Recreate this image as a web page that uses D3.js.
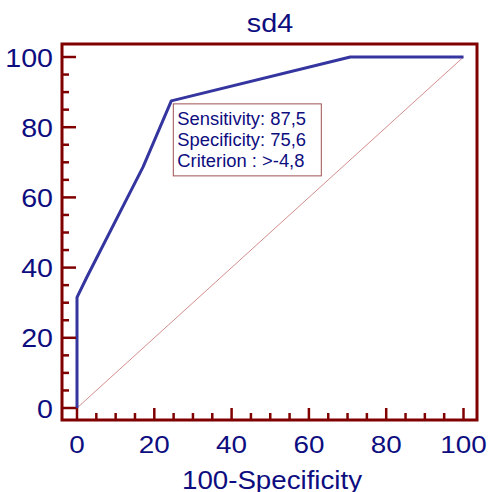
<!DOCTYPE html>
<html><head><meta charset="utf-8">
<script src="https://cdn.jsdelivr.net/npm/d3@7"></script>
<style>body{margin:0;background:#fff}svg{display:block}</style>
</head><body>
<script>
const fpr = [0, 0, 2.6, 17.1, 24.4, 70.7, 100];
const tpr = [0, 31.5, 37.4, 68.7, 87.5, 100, 100];
const majorTicks = [0, 20, 40, 60, 80, 100];
const title = "sd4";
const xTitle = "100-Specificity";
const annot = ["Sensitivity: 87,5", "Specificity: 75,6", "Criterion : >-4,8"];
const annotPoint = [24.4, 87.5];

const W = 490, H = 492;
const svg = d3.select("body").append("svg").attr("width", W).attr("height", H);
const x = d3.scaleLinear().domain([0, 100]).range([77, 463.5]);
const y = d3.scaleLinear().domain([0, 100]).range([408, 57]);
const frame = {l: 62, r: 477, t: 44, b: 420};
const red = "#800000", navy = "#0d0d80", font = "Liberation Sans, Arial, sans-serif";

function txt(px, py, s, size, sx, anchor) {
  return svg.append("text").attr("transform", `translate(${px},${py}) scale(${sx},1)`)
    .attr("text-anchor", anchor).attr("font-family", font).attr("font-size", size)
    .attr("fill", navy).text(s);
}

// diagonal
svg.append("line").attr("x1", x(0)).attr("y1", y(0)).attr("x2", x(100)).attr("y2", y(100))
  .attr("stroke", "#c87070").attr("stroke-width", 0.8);

// ROC line
const line = d3.line().x((d, i) => x(fpr[i])).y((d, i) => y(tpr[i]));
svg.append("path").datum(fpr).attr("d", line).attr("fill", "none")
  .attr("stroke", "#3535a0").attr("stroke-width", 3).attr("stroke-linejoin", "round");

// frame
svg.append("rect").attr("x", frame.l).attr("y", frame.t).attr("width", frame.r - frame.l)
  .attr("height", frame.b - frame.t).attr("fill", "none").attr("stroke", red).attr("stroke-width", 3);

// ticks
const allTicks = d3.range(0, 101, 5);
allTicks.forEach(v => {
  const major = v % 20 === 0;
  svg.append("line").attr("x1", frame.l).attr("x2", frame.l + (major ? 14 : 7)).attr("y1", y(v)).attr("y2", y(v))
    .attr("stroke", red).attr("stroke-width", 2.5);
  svg.append("line").attr("y1", frame.b).attr("y2", frame.b - (major ? 12 : 7)).attr("x1", x(v)).attr("x2", x(v))
    .attr("stroke", red).attr("stroke-width", 2.5);
});

// tick labels
majorTicks.forEach(v => {
  txt(53, y(v) + 9.5, v, 26, 1.1, "end");
  txt(x(v), 452.5, v, 24, 1.16, "middle");
});

// titles
txt(270, 32, title, 25, 1.15, "middle");
txt(272, 488.5, xTitle, 26, 1.065, "middle");

// annotation
const bx = x(annotPoint[0]) + 2, by = y(annotPoint[1]) + 3;
svg.append("rect").attr("x", bx).attr("y", by).attr("width", 148).attr("height", 72)
  .attr("fill", "#fff").attr("stroke", "#a05050").attr("stroke-width", 1);
annot.forEach((t, i) => {
  txt(bx + 4, by + 21 + i * 21, t, 17.5, 1.05, "start");
});
</script>
</body></html>
